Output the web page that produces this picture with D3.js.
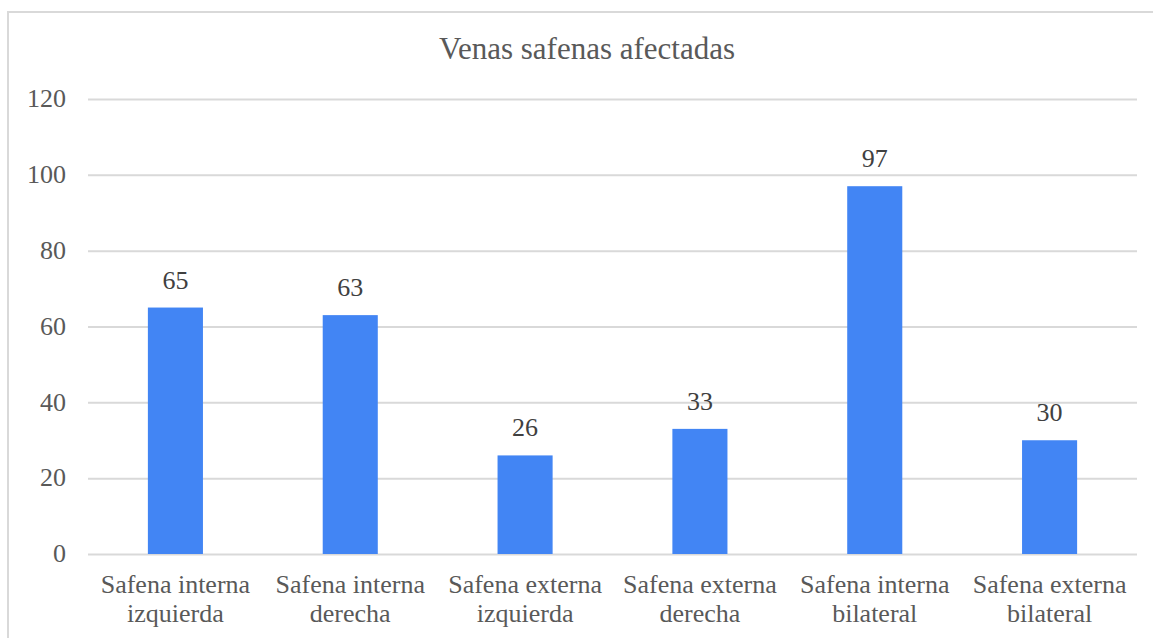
<!DOCTYPE html>
<html>
<head>
<meta charset="utf-8">
<script src="https://cdn.jsdelivr.net/npm/d3@7"></script>
<style>
  html, body { margin: 0; padding: 0; background: #ffffff; }
  svg { display: block; }
  svg text { font-family: "Liberation Serif", Tinos, "Times New Roman", "DejaVu Serif", serif; }
</style>
</head>
<body>
<svg id="chart" width="1153" height="638"></svg>
<script>
// Categories, split into the two lines shown under each bar
const categories = [
  "Safena interna izquierda",
  "Safena interna derecha",
  "Safena externa izquierda",
  "Safena externa derecha",
  "Safena interna bilateral",
  "Safena externa bilateral"
];
const labelLines = [
  ["Safena interna", "izquierda"],
  ["Safena interna", "derecha"],
  ["Safena externa", "izquierda"],
  ["Safena externa", "derecha"],
  ["Safena interna", "bilateral"],
  ["Safena externa", "bilateral"]
];
const values = [65, 63, 26, 33, 97, 30];
const yTicks = [0, 20, 40, 60, 80, 100, 120];
const title = "Venas safenas afectadas";

const W = 1153, H = 638;
const plot = { left: 88, right: 1137, top: 99, bottom: 554 };
const textColor = "#595959";
const gridColor = "#d9d9d9";
const barColor = "#4285f4";

const svg = d3.select("#chart");

// outer frame (top and left edges)
svg.append("path")
  .attr("d", `M8,${H} L8,12 L${W},12`)
  .attr("fill", "none")
  .attr("stroke", gridColor)
  .attr("stroke-width", 2);

const x = d3.scaleBand().domain(categories).range([plot.left, plot.right]).padding(0);
const y = d3.scaleLinear().domain([0, 120]).range([plot.bottom, plot.top]);
const barW = x.bandwidth() * 0.315;

// gridlines
const grid = svg.append("g")
  .attr("transform", `translate(${plot.left},0)`)
  .call(d3.axisLeft(y).tickValues(yTicks).tickSize(-(plot.right - plot.left)).tickFormat(""));
grid.select(".domain").remove();
grid.selectAll("line").attr("stroke", gridColor).attr("stroke-width", 2);

// y tick labels
const yAxis = svg.append("g")
  .attr("transform", `translate(66,0)`)
  .call(d3.axisLeft(y).tickValues(yTicks).tickSize(0).tickPadding(0));
yAxis.select(".domain").remove();
yAxis.selectAll("text")
  .attr("font-family", null)
  .attr("font-size", 26)
  .attr("fill", textColor)
  .attr("dy", "0.3em");
yAxis.attr("font-family", null).attr("font-size", null);

// bars
svg.append("g").selectAll("rect")
  .data(values)
  .join("rect")
  .attr("x", (d, i) => x(categories[i]) + (x.bandwidth() - barW) / 2)
  .attr("y", d => y(d))
  .attr("width", barW)
  .attr("height", d => y(0) - y(d))
  .attr("fill", barColor);

// value labels
svg.append("g").selectAll("text")
  .data(values)
  .join("text")
  .attr("x", (d, i) => x(categories[i]) + x.bandwidth() / 2)
  .attr("y", d => y(d) - 19)
  .attr("text-anchor", "middle")
  .attr("font-size", 26)
  .attr("fill", "#404040")
  .text(d => d);

// category labels
const cat = svg.append("g").selectAll("text")
  .data(categories)
  .join("text")
  .attr("text-anchor", "middle")
  .attr("font-size", 26)
  .attr("fill", textColor);
cat.each(function (d, i) {
  const t = d3.select(this);
  const cx = x(d) + x.bandwidth() / 2;
  labelLines[i].forEach((line, k) => {
    t.append("tspan").attr("x", cx).attr("y", 593 + k * 29).text(line);
  });
});

// title
svg.append("text")
  .attr("x", 587)
  .attr("y", 59)
  .attr("text-anchor", "middle")
  .attr("font-size", 31)
  .attr("fill", textColor)
  .text(title);
</script>
</body>
</html>
